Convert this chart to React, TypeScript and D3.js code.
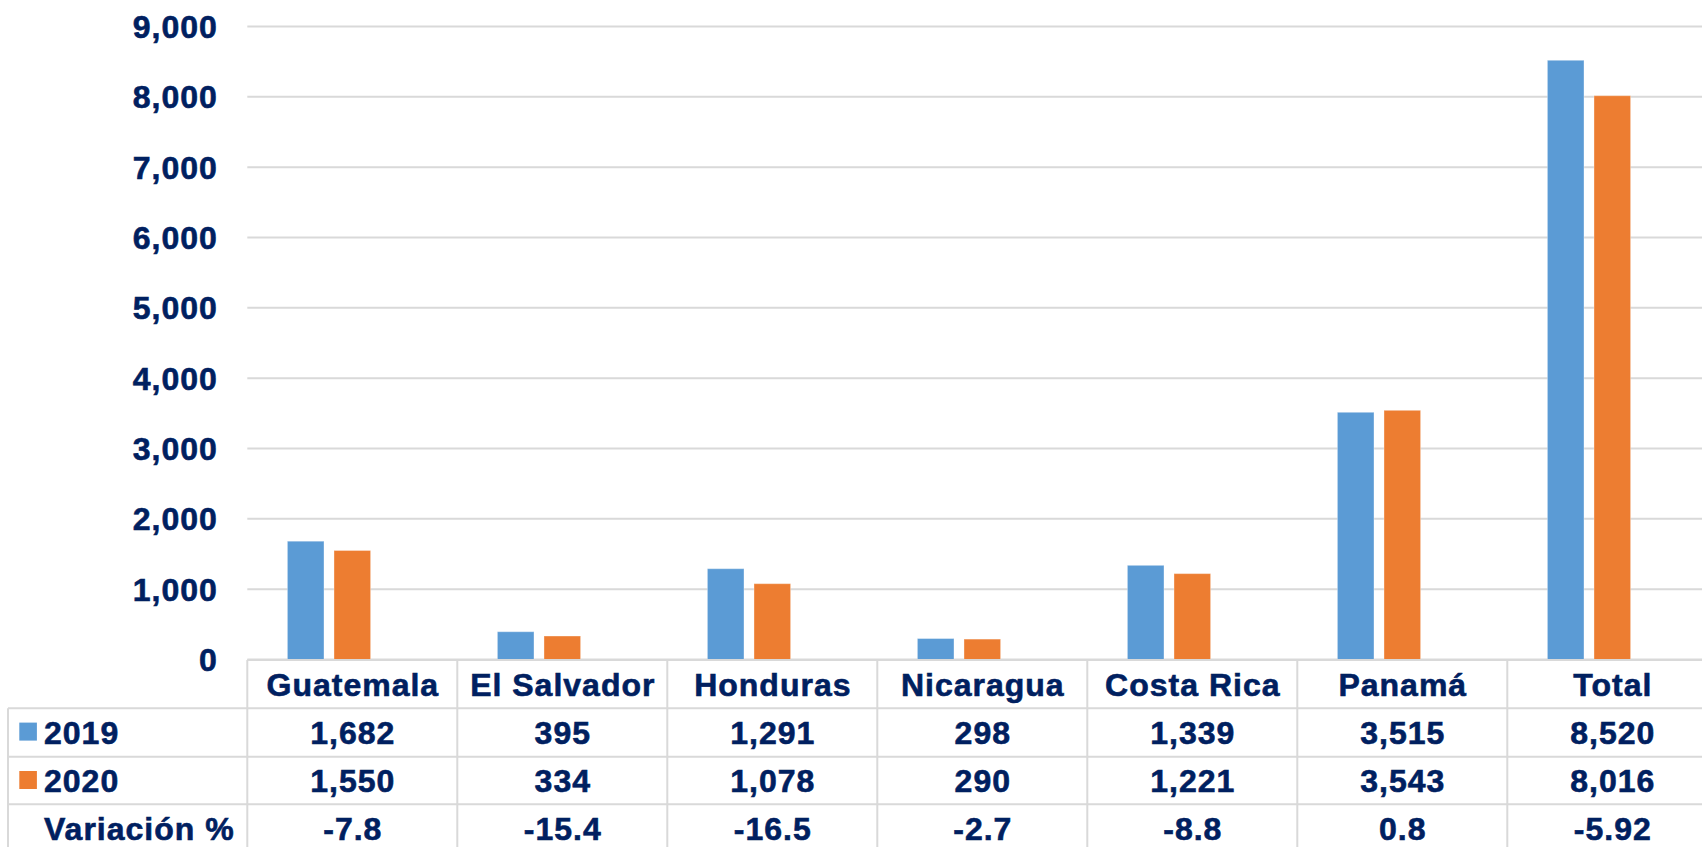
import React from "react";
import * as d3 from "d3";

const categories = ["Guatemala", "El Salvador", "Honduras", "Nicaragua", "Costa Rica", "Panamá", "Total"];
const seriesNames = ["2019", "2020", "Variación %"];
const values2019 = [1682, 395, 1291, 298, 1339, 3515, 8520];
const values2020 = [1550, 334, 1078, 290, 1221, 3543, 8016];
const variation = [-7.8, -15.4, -16.5, -2.7, -8.8, 0.8, -5.92];
const yTicks = [0, 1000, 2000, 3000, 4000, 5000, 6000, 7000, 8000, 9000];
const seriesColors = ["#5B9BD5", "#ED7D31"];

const W = 1702;
const H = 847;
const TEXT = "#002060";
const GRID = "#D9D9D9";
const FONT = "'Liberation Sans', Arial, sans-serif";
const FS = 32;
const LS = 1.0;

export default function App() {
  const plotLeft = 247.3;
  const band = 210;
  const x = d3
    .scaleBand<string>()
    .domain(categories)
    .range([plotLeft, plotLeft + band * categories.length])
    .paddingInner(0)
    .paddingOuter(0);
  const xs = d3
    .scaleBand<string>()
    .domain(seriesNames)
    .range([0, band])
    .paddingInner(0.2146)
    .paddingOuter(0.86);
  const y = d3.scaleLinear().domain([0, 9000]).range([659.5, 26.5]);
  const fmt = d3.format(",");

  const tableTop = 660;
  const rowLines = [708.3, 756.7, 804.3];
  const rowH = 48.2;
  const legendLeft = 8;
  const rightEdge = W;
  const capOff = FS * 0.358;

  const rows = [
    { label: "2019", color: seriesColors[0], vals: values2019.map((v) => fmt(v)) },
    { label: "2020", color: seriesColors[1], vals: values2020.map((v) => fmt(v)) },
    { label: "Variación %", color: null, vals: variation.map((v) => String(v)) },
  ];

  const textProps = {
    fontFamily: FONT,
    fontWeight: 700,
    fontSize: FS,
    fill: TEXT,
    stroke: TEXT,
    strokeWidth: 0.6,
    letterSpacing: LS,
  } as const;

  return (
    <svg
      width={W}
      height={H}
      style={{ position: "absolute", left: 0, top: 0, background: "#fff" }}
    >
      <rect x={0} y={0} width={W} height={H} fill="#fff" />
      {/* gridlines */}
      {yTicks.map((t) => (
        <line
          key={"g" + t}
          x1={plotLeft}
          x2={rightEdge}
          y1={y(t)}
          y2={y(t)}
          stroke={GRID}
          strokeWidth={2}
        />
      ))}
      {/* y labels */}
      {yTicks.map((t) => (
        <text key={"yl" + t} x={217.8} y={y(t) + capOff} textAnchor="end" {...textProps}>
          {fmt(t)}
        </text>
      ))}
      {/* bars */}
      {categories.map((c, i) => (
        <g key={"bars" + c}>
          {[values2019[i], values2020[i]].map((v, s) => (
            <rect
              key={s}
              x={(x(c) as number) + (xs(seriesNames[s]) as number)}
              y={y(v)}
              width={xs.bandwidth()}
              height={y(0) - y(v)}
              fill={seriesColors[s]}
              stroke="#ffffff"
              strokeOpacity={0.35}
              strokeWidth={1}
            />
          ))}
        </g>
      ))}
      {/* table lines */}
      <line x1={plotLeft} x2={rightEdge} y1={tableTop} y2={tableTop} stroke={GRID} strokeWidth={2} />
      {rowLines.map((ry) => (
        <line key={"r" + ry} x1={legendLeft} x2={rightEdge} y1={ry} y2={ry} stroke={GRID} strokeWidth={2} />
      ))}
      <line x1={legendLeft} x2={legendLeft} y1={rowLines[0]} y2={H} stroke={GRID} strokeWidth={2} />
      {d3.range(categories.length + 1).map((k) => (
        <line
          key={"v" + k}
          x1={plotLeft + k * band}
          x2={plotLeft + k * band}
          y1={tableTop}
          y2={H}
          stroke={GRID}
          strokeWidth={2}
        />
      ))}
      {/* header row */}
      {categories.map((c) => (
        <text
          key={"h" + c}
          x={(x(c) as number) + band / 2 + LS / 2}
          y={(tableTop + rowLines[0]) / 2 + capOff}
          textAnchor="middle"
          {...textProps}
        >
          {c}
        </text>
      ))}
      {/* data rows */}
      {rows.map((r, ri) => {
        const top = rowLines[ri];
        const cy = top + rowH / 2;
        return (
          <g key={"row" + ri}>
            {r.color && <rect x={19.3} y={cy - 9.8} width={17.6} height={18} fill={r.color} />}
            <text x={44} y={cy + capOff} {...textProps}>
              {r.label}
            </text>
            {r.vals.map((v, ci) => (
              <text
                key={ci}
                x={(x(categories[ci]) as number) + band / 2 + LS / 2}
                y={cy + capOff}
                textAnchor="middle"
                {...textProps}
              >
                {v}
              </text>
            ))}
          </g>
        );
      })}
    </svg>
  );
}
